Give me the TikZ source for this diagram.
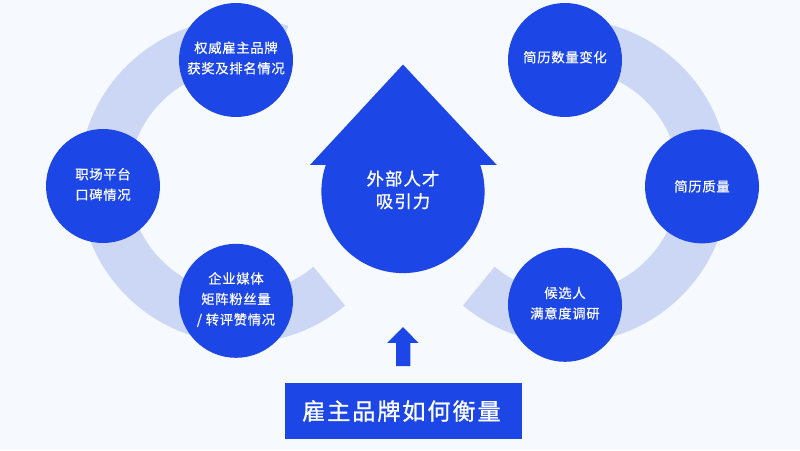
\documentclass[tikz,border=0pt]{standalone}
\usepackage{fontspec}
\setmainfont{Noto Sans CJK SC}
\newfontfamily\smallcjk[LetterSpace=5,FakeBold=0.5]{Noto Sans CJK SC}
\newfontfamily\midcjk[LetterSpace=6,FakeBold=0.8]{Noto Sans CJK SC}
\newfontfamily\titlecjk[LetterSpace=8,FakeBold=1]{Noto Sans CJK SC}
\definecolor{pagebg}{HTML}{F6FAFF}
\definecolor{ringblue}{HTML}{CCD7F5}
\definecolor{mainblue}{HTML}{1C47E6}
\tikzset{
    ringband/.style={draw=ringblue,line width=1.25cm},
    metric/.style={circle,fill=mainblue,minimum size=2.85cm,inner sep=0pt},
    metrictext/.style={text=white,inner sep=0pt,align=center,font=\smallcjk\fontsize{9.5}{14.6}\selectfont},
    hub/.style={circle,fill=mainblue,minimum size=4.08cm,inner sep=0pt},
    hubtext/.style={text=white,inner sep=0pt,align=center,font=\midcjk\fontsize{12.4}{16}\selectfont},
    titlebox/.style={rectangle,fill=mainblue,text=white,minimum width=5.92cm,minimum height=1.415cm,inner sep=0pt,font=\titlecjk\fontsize{16.5}{20}\selectfont}
}
\begin{document}
\begin{tikzpicture}[]
%%% COORDINATES %%%
\coordinate (CL) at (6.025,6.725); % centre of left ring
\coordinate (CR) at (14.175,6.725); % centre of right ring

%%% BACKGROUND %%%
\fill[pagebg] (0,0) rectangle (20,11.25);

%%% RINGS %%%
\draw[ringband] (CL) ++(73:3.43) arc[start angle=73,end angle=310,radius=3.43];
\draw[ringband] (CR) ++(107:3.43) arc[start angle=107,end angle=-130,radius=3.43];

%%% LEFT CIRCLES %%%
\node[metric] (award) at (5.9,9.75) {};
\node[metrictext] (awardtext) at ([yshift=0.05cm]award.center) {权威雇主品牌\\获奖及排名情况};
\node[metric] (review) at (2.575,6.6) {};
\node[metrictext] (reviewtext) at ([yshift=0.04cm]review.center) {职场平台\\口碑情况};
\node[metric] (media) at (5.9,3.73) {};
\node[metrictext] (mediatext) at ([yshift=0.03cm]media.center) {企业媒体\\矩阵粉丝量\\/ 转评赞情况};

%%% RIGHT CIRCLES %%%
\node[metric] (count) at (14.125,9.75) {};
\node[metrictext] (counttext) at ([yshift=0.07cm]count.center) {简历数量变化};
\node[metric] (quality) at (17.55,6.59) {};
\node[metrictext] (qualitytext) at (quality.center) {简历质量};
\node[metric] (survey) at (14.125,3.63) {};
\node[metrictext] (surveytext) at ([yshift=0.04cm]survey.center) {候选人\\满意度调研};

%%% CENTRE ARROW %%%
\fill[mainblue] (7.75,7.125) -- (10.075,9.6375) -- (12.42,7.125) -- cycle;
\node[hub] (talent) at (10.075,6.4625) {};
\node[hubtext] (talenttext) at ([yshift=0.04cm]talent.center) {外部人才\\吸引力};

%%% BOTTOM %%%
\node[titlebox] (measure) at (10.08,0.975) {雇主品牌如何衡量\kern2.5pt};
\fill[mainblue] (9.9,2.1) -- (9.9,2.68) -- (9.68,2.68) -- (10.075,3.075)
  -- (10.46,2.68) -- (10.26,2.68) -- (10.26,2.1) -- cycle;
\end{tikzpicture}
\end{document}
